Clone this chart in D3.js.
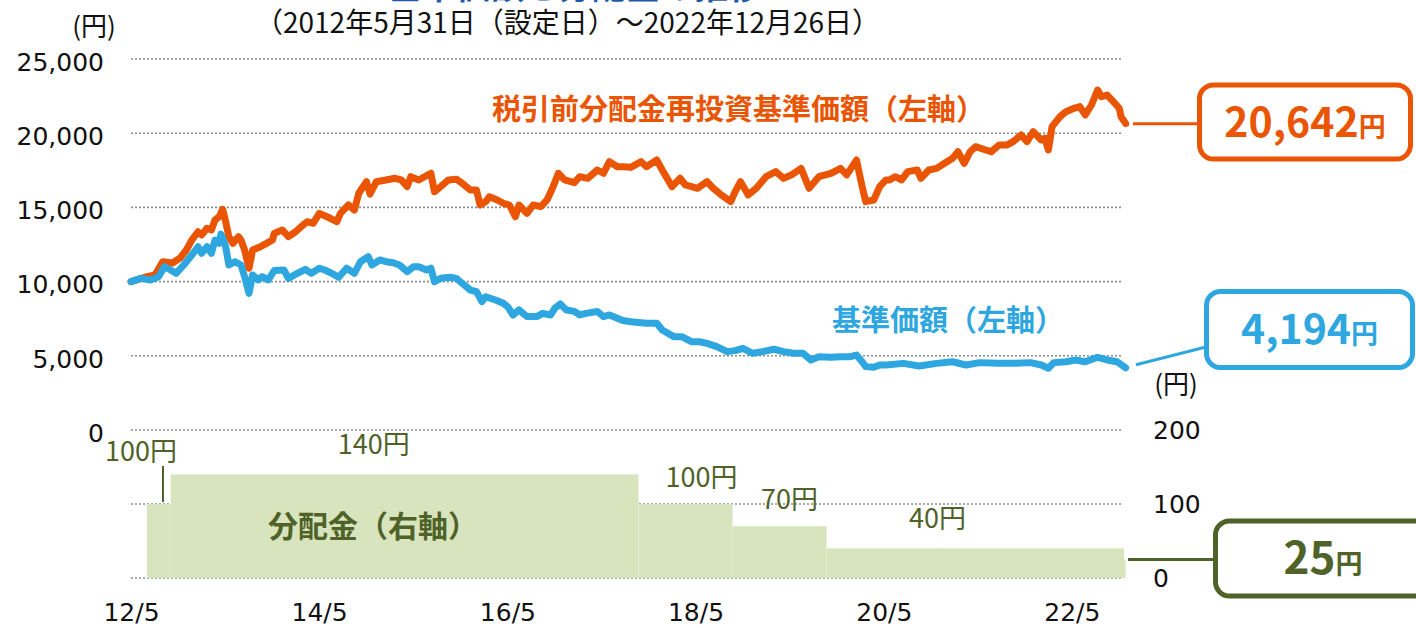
<!DOCTYPE html>
<html lang="ja">
<head>
<meta charset="utf-8">
<script src="https://cdn.jsdelivr.net/npm/d3@7"></script>
<style>
  body { margin: 0; background: #fff; }
  svg { display: block; font-family: "Noto Sans CJK JP", sans-serif; }
</style>
</head>
<body>
<script>
// 税引前分配金再投資基準価額 (left axis)
const reinvestData = [
  ["2012-05-31",10000],["2012-08-01",10330],["2012-09-01",10450],["2012-10-01",11340],["2012-11-08",11250],
  ["2012-12-08",11590],["2013-01-01",12130],["2013-01-22",12800],["2013-02-15",13360],["2013-03-01",13140],
  ["2013-03-22",13590],["2013-04-08",13480],["2013-04-22",14150],["2013-05-08",14370],["2013-05-22",14870],
  ["2013-06-01",14150],["2013-06-15",13030],["2013-07-01",12580],["2013-07-22",13030],["2013-08-01",12800],
  ["2013-08-15",12130],["2013-09-01",10900],["2013-09-15",12130],["2013-10-15",12350],["2013-11-08",12580],
  ["2013-12-01",12800],["2013-12-08",13250],["2014-01-08",13480],["2014-02-01",13030],["2014-03-01",13360],
  ["2014-03-22",13700],["2014-04-15",14040],["2014-05-08",13930],["2014-06-01",14600],["2014-07-01",14370],
  ["2014-08-08",14040],["2014-08-22",14600],["2014-09-22",15160],["2014-10-15",14820],["2014-11-01",15950],
  ["2014-12-01",16730],["2014-12-15",15900],["2015-01-08",16730],["2015-02-15",16850],["2015-03-22",16960],
  ["2015-04-15",16850],["2015-05-08",16400],["2015-05-22",17070],["2015-06-22",16850],["2015-08-08",17300],
  ["2015-08-22",16060],["2015-09-15",16400],["2015-10-15",16850],["2015-11-15",16900],["2015-12-08",16620],
  ["2016-01-08",16170],["2016-02-01",16170],["2016-02-15",15160],["2016-03-08",15390],["2016-03-22",15720],
  ["2016-04-22",15500],["2016-05-15",15280],["2016-06-08",15160],["2016-07-01",14370],["2016-07-15",15160],
  ["2016-08-15",14600],["2016-09-08",15160],["2016-10-08",15050],["2016-11-01",15500],["2016-11-22",16290],
  ["2016-12-15",17300],["2017-01-08",16850],["2017-02-15",16670],["2017-03-08",17070],["2017-04-08",16960],
  ["2017-05-15",17520],["2017-06-08",17300],["2017-07-01",18080],["2017-08-01",17740],["2017-08-22",17740],
  ["2017-09-22",17700],["2017-11-01",18080],["2017-11-22",17740],["2018-01-01",18190],["2018-01-22",17520],
  ["2018-03-01",16400],["2018-04-01",16960],["2018-04-22",16510],["2018-06-08",16290],["2018-07-15",16730],
  ["2018-08-08",16290],["2018-09-08",15840],["2018-10-15",15390],["2018-11-01",16060],["2018-11-22",16730],
  ["2018-12-22",15840],["2019-01-22",16290],["2019-03-01",17070],["2019-04-08",17410],["2019-05-08",16960],
  ["2019-06-08",17190],["2019-07-15",17630],["2019-08-15",16290],["2019-09-22",17070],["2019-11-08",17300],
  ["2019-12-15",17630],["2020-01-08",17190],["2020-02-15",18190],["2020-03-08",16400],["2020-03-22",15390],
  ["2020-04-22",15500],["2020-05-15",16400],["2020-06-08",16850],["2020-06-22",16850],["2020-07-15",17070],
  ["2020-08-08",16850],["2020-09-01",17410],["2020-10-08",17520],["2020-10-22",16960],["2020-11-22",17520],
  ["2020-12-22",17630],["2021-01-22",17970],["2021-02-22",18310],["2021-03-15",18750],["2021-04-08",17970],
  ["2021-05-01",18750],["2021-05-22",19090],["2021-07-01",18870],["2021-07-22",18750],["2021-08-22",19210],
  ["2021-09-22",19210],["2021-10-15",19430],["2021-11-15",19880],["2021-12-08",19430],["2022-01-01",20100],
  ["2022-02-01",19540],["2022-02-15",19660],["2022-03-01",18870],["2022-03-15",20440],["2022-04-15",21110],
  ["2022-05-08",21450],["2022-06-08",21680],["2022-07-01",21790],["2022-07-22",21230],["2022-08-15",21900],
  ["2022-09-08",22910],["2022-09-22",22460],["2022-10-15",22570],["2022-11-08",22120],["2022-12-01",21680],
  ["2022-12-08",21110],["2022-12-26",20642]
];

// 基準価額 (left axis)
const navData = [
  ["2012-05-31",10000],["2012-07-08",10220],["2012-08-15",10110],["2012-09-15",10330],["2012-10-08",11000],
  ["2012-11-01",10780],["2012-11-22",10560],["2012-12-22",11120],["2013-01-22",11790],["2013-02-15",12350],
  ["2013-03-01",11910],["2013-03-22",12350],["2013-04-08",11910],["2013-04-22",12800],["2013-05-08",12580],
  ["2013-05-15",13200],["2013-06-01",12470],["2013-06-15",11120],["2013-07-08",11340],["2013-08-01",11120],
  ["2013-08-15",10330],["2013-09-01",9210],["2013-09-15",10450],["2013-10-08",10110],["2013-10-22",10330],
  ["2013-11-15",10110],["2013-12-08",10740],["2014-01-15",10780],["2014-02-01",10220],["2014-03-08",10560],
  ["2014-04-08",10830],["2014-05-01",10560],["2014-06-01",10900],["2014-06-22",10780],["2014-07-15",10600],
  ["2014-08-15",10290],["2014-09-15",10900],["2014-10-15",10560],["2014-11-08",11340],["2014-12-08",11680],
  ["2014-12-22",11120],["2015-01-22",11460],["2015-02-15",11340],["2015-03-15",11270],["2015-04-08",11120],
  ["2015-05-08",10670],["2015-06-01",11000],["2015-06-22",11000],["2015-07-22",10780],["2015-08-08",10900],
  ["2015-08-22",9990],["2015-09-15",10220],["2015-10-22",10290],["2015-11-15",10220],["2015-12-08",9880],
  ["2016-01-08",9430],["2016-02-01",9320],["2016-02-22",8650],["2016-03-08",8980],["2016-04-15",8760],
  ["2016-05-15",8540],["2016-06-01",8310],["2016-06-22",7750],["2016-07-15",8090],["2016-08-15",7640],
  ["2016-09-22",7640],["2016-10-15",7860],["2016-11-15",7750],["2016-12-01",8200],["2016-12-22",8490],
  ["2017-01-15",8090],["2017-02-15",7990],["2017-03-08",7750],["2017-04-01",7860],["2017-05-15",7990],
  ["2017-06-08",7640],["2017-07-01",7750],["2017-08-01",7530],["2017-08-22",7380],["2017-09-22",7300],
  ["2017-11-22",7190],["2018-01-01",7190],["2018-01-22",6740],["2018-03-08",6290],["2018-04-08",6290],
  ["2018-05-15",5950],["2018-06-15",5950],["2018-07-15",5840],["2018-08-22",5620],["2018-10-01",5280],
  ["2018-11-01",5350],["2018-12-01",5500],["2019-01-08",5170],["2019-02-15",5280],["2019-04-01",5440],
  ["2019-05-08",5280],["2019-06-15",5170],["2019-07-22",5170],["2019-08-22",4720],["2019-09-22",4940],
  ["2019-11-08",4900],["2019-12-15",4940],["2020-01-22",4940],["2020-02-15",5050],["2020-03-08",4600],
  ["2020-03-22",4270],["2020-04-22",4230],["2020-05-15",4380],["2020-06-08",4380],["2020-08-15",4490],
  ["2020-10-15",4310],["2020-12-22",4490],["2021-02-22",4600],["2021-04-15",4380],["2021-06-08",4540],
  ["2021-08-15",4490],["2021-10-15",4490],["2021-12-22",4540],["2022-02-01",4380],["2022-03-01",4160],
  ["2022-03-22",4540],["2022-05-08",4600],["2022-06-15",4720],["2022-07-22",4600],["2022-09-08",4900],
  ["2022-10-15",4720],["2022-11-22",4600],["2022-12-26",4194]
];

// 分配金 (right axis): amount per period, period starts
const distStarts = ["2012-08-01", "2012-11-01", "2017-10-22", "2018-10-22", "2019-10-22", "2022-12-20"];
const distAmounts = [100, 140, 100, 70, 40, 25];
const distEnd = "2022-12-26";

const leftTicks = [0, 5000, 10000, 15000, 20000, 25000];
const rightTicks = [0, 100, 200];
const xTicks = ["2012-05-31", "2014-05-31", "2016-05-31", "2018-05-31", "2020-05-31", "2022-05-31"];

const title = "基準価額と分配金の推移";
const subtitle = "（2012年5月31日（設定日）～2022年12月26日）";

let w = 1416;
let h = 628;
let orange = "#ea5504";
let blue = "#2ea7e0";
let olive = "#4f6228";
let barFill = "#d7e4bd";
let gridLeft = 131;
let gridRight = 1123;

let parse = d3.timeParse("%Y-%m-%d");

let xScale = d3.scaleTime()
  .domain([parse("2012-05-31"), parse(distEnd)])
  .range([131, 1125.7]);
let yLeft = d3.scaleLinear().domain([0, 25000]).range([430, 59]);
let yRight = d3.scaleLinear().domain([0, 200]).range([578, 430]);

let svg = d3.select("body")
  .append("svg")
  .attr("width", w)
  .attr("height", h);

// title (cut off at the top, as in the source) and subtitle
svg.append("text")
  .attr("x", 575)
  .attr("y", -1)
  .attr("text-anchor", "middle")
  .style("font-size", "34px")
  .style("font-weight", "bold")
  .style("fill", "#1f5aa8")
  .text(title);

svg.append("text")
  .attr("x", 255)
  .attr("y", 33)
  .style("font-size", "28px")
  .style("fill", "#111")
  .text(subtitle);

// grid lines
let gridStyle = (sel) => sel
  .attr("x1", gridLeft)
  .attr("x2", gridRight)
  .style("stroke", "#8c8c8c")
  .style("stroke-width", 1.6)
  .style("stroke-dasharray", "2,2");

svg.append("g").selectAll("line")
  .data(leftTicks)
  .enter()
  .append("line")
  .attr("y1", d => yLeft(d))
  .attr("y2", d => yLeft(d))
  .call(gridStyle);

svg.append("g").selectAll("line")
  .data(rightTicks.filter(d => d < 200))
  .enter()
  .append("line")
  .attr("y1", d => yRight(d))
  .attr("y2", d => yRight(d))
  .call(gridStyle);

// distribution bars
let distPeriods = distStarts.map((d, i) => ({
  start: parse(d),
  end: parse(i < distStarts.length - 1 ? distStarts[i + 1] : distEnd),
  amount: distAmounts[i]
}));

svg.append("g").selectAll("rect")
  .data(distPeriods)
  .enter()
  .append("rect")
  .attr("x", d => xScale(d.start))
  .attr("y", d => yRight(d.amount))
  .attr("width", d => xScale(d.end) - xScale(d.start))
  .attr("height", d => yRight(0) - yRight(d.amount))
  .style("fill", barFill);

// distribution labels
let labelShift = [[-6, -43], [203, -20], [63, -17], [57, -17], [111, -20]];
svg.append("g").selectAll("text")
  .data(distPeriods.slice(0, labelShift.length))
  .enter()
  .append("text")
  .attr("x", (d, i) => xScale(d.start) + labelShift[i][0])
  .attr("y", (d, i) => yRight(d.amount) + labelShift[i][1])
  .attr("text-anchor", "middle")
  .style("font-size", "27px")
  .style("fill", olive)
  .text(d => d.amount + "円");

// leader for the first distribution label
svg.append("line")
  .attr("x1", xScale(distPeriods[0].start) + 16)
  .attr("x2", xScale(distPeriods[0].start) + 16)
  .attr("y1", yRight(distPeriods[0].amount) - 38)
  .attr("y2", yRight(distPeriods[0].amount) - 2)
  .style("stroke", olive)
  .style("stroke-width", 2);

svg.append("text")
  .attr("x", 268)
  .attr("y", 537)
  .style("font-size", "30px")
  .style("font-weight", "bold")
  .style("fill", olive)
  .text("分配金（右軸）");

// lines
let line = d3.line()
  .x(d => xScale(parse(d[0])))
  .y(d => yLeft(d[1]));

svg.append("path")
  .datum(reinvestData)
  .attr("d", line)
  .style("fill", "none")
  .style("stroke", orange)
  .style("stroke-width", 7)
  .style("stroke-linejoin", "round")
  .style("stroke-linecap", "round");

svg.append("path")
  .datum(navData)
  .attr("d", line)
  .style("fill", "none")
  .style("stroke", blue)
  .style("stroke-width", 7)
  .style("stroke-linejoin", "round")
  .style("stroke-linecap", "round");

svg.append("text")
  .attr("x", 492)
  .attr("y", 120)
  .style("font-size", "29px")
  .style("font-weight", "bold")
  .style("fill", orange)
  .text("税引前分配金再投資基準価額（左軸）");

svg.append("text")
  .attr("x", 832)
  .attr("y", 331)
  .style("font-size", "29px")
  .style("font-weight", "bold")
  .style("fill", blue)
  .text("基準価額（左軸）");

// axes
let leftAxis = svg.append("g")
  .attr("transform", "translate(104,0)")
  .call(d3.axisLeft(yLeft).tickValues(leftTicks).tickFormat(d3.format(",")).tickSize(0).tickPadding(0));

let rightAxis = svg.append("g")
  .attr("transform", "translate(1153,0)")
  .call(d3.axisRight(yRight).tickValues(rightTicks).tickSize(0).tickPadding(0));

let bottomAxis = svg.append("g")
  .attr("transform", "translate(0,600)")
  .call(d3.axisBottom(xScale).tickValues(xTicks.map(parse)).tickFormat(d3.timeFormat("%y/%-m")).tickSize(0).tickPadding(3));

[leftAxis, rightAxis, bottomAxis].forEach(g => {
  g.select(".domain").remove();
  g.selectAll("text")
    .style("font-family", "'DejaVu Sans', sans-serif")
    .style("font-size", "25px")
    .style("fill", "#111");
});
leftAxis.selectAll("text").attr("dy", "0.45em");

svg.append("text")
  .attr("x", 94)
  .attr("y", 36)
  .attr("text-anchor", "middle")
  .style("font-size", "26px")
  .style("fill", "#111")
  .text("(円)");

svg.append("text")
  .attr("x", 1176)
  .attr("y", 394)
  .attr("text-anchor", "middle")
  .style("font-size", "26px")
  .style("fill", "#111")
  .text("(円)");

// callouts for the latest values
let fmt = d3.format(",");
function callout(box, from, to, color, value, bigSize) {
  svg.append("line")
    .attr("x1", from[0]).attr("y1", from[1])
    .attr("x2", to[0]).attr("y2", to[1])
    .style("stroke", color)
    .style("stroke-width", 3);
  svg.append("rect")
    .attr("x", box[0]).attr("y", box[1])
    .attr("width", box[2]).attr("height", box[3])
    .attr("rx", 14)
    .style("fill", "#fff")
    .style("stroke", color)
    .style("stroke-width", 5);
  let t = svg.append("text")
    .attr("x", box[0] + box[2] / 2)
    .attr("y", box[1] + box[3] / 2 + bigSize * 0.36)
    .attr("text-anchor", "middle")
    .style("font-weight", "bold")
    .style("fill", color);
  t.append("tspan").style("font-size", bigSize + "px").text(value);
  t.append("tspan").style("font-size", "27px").text("円");
}

let lastReinvest = reinvestData[reinvestData.length - 1];
let lastNav = navData[navData.length - 1];
let lastDist = distPeriods[distPeriods.length - 1];

callout([1199.5, 85, 211, 74], [1133, yLeft(lastReinvest[1])], [1199, yLeft(lastReinvest[1])],
  orange, fmt(lastReinvest[1]), 41);
callout([1206.5, 291.5, 206, 76], [1136, yLeft(lastNav[1]) - 3], [1206, 347],
  blue, fmt(lastNav[1]), 41);
callout([1215.5, 521, 215, 75], [1128, yRight(lastDist.amount)], [1215, yRight(lastDist.amount)],
  olive, fmt(lastDist.amount), 44);
</script>
</body>
</html>
